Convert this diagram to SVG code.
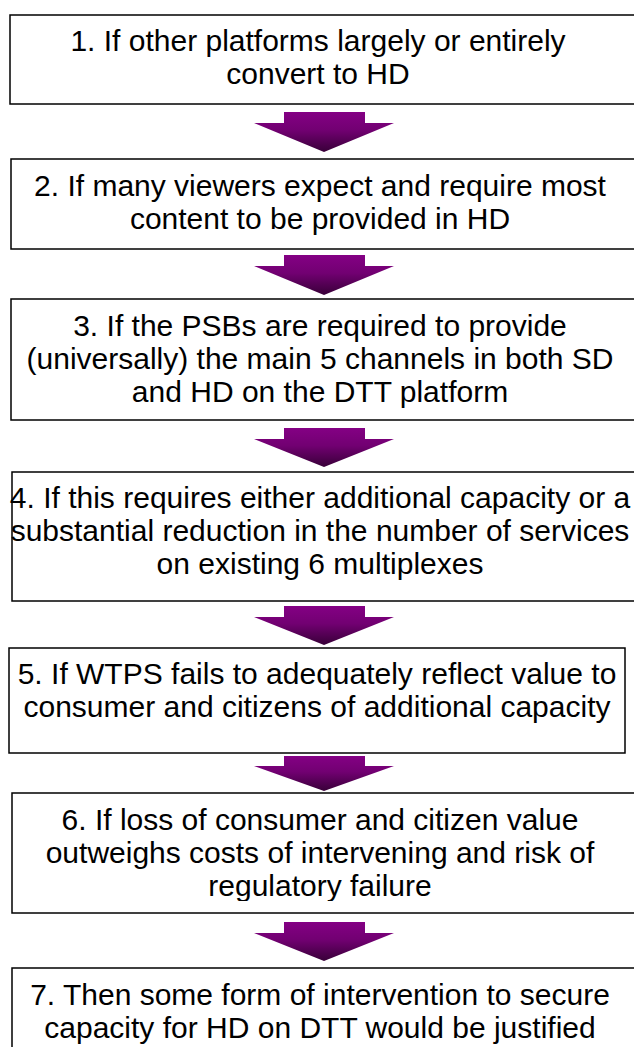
<svg xmlns="http://www.w3.org/2000/svg" width="634" height="1047" viewBox="0 0 634 1047">
<style>
.box{fill:#fff;stroke:#000;stroke-width:1.5}
.t{font-family:"Liberation Sans",Arial,sans-serif;font-size:30px;fill:#000;text-anchor:middle}
.arr{fill:url(#g)}
</style>
<defs>
<linearGradient id="g" x1="0" y1="0" x2="0" y2="1">
<stop offset="0" stop-color="#840084"/>
<stop offset="0.45" stop-color="#720072"/>
<stop offset="1" stop-color="#380038"/>
</linearGradient>
<clipPath id="c6"><rect x="0" y="793" width="634" height="108"/></clipPath>
</defs>
<rect width="634" height="1047" fill="#fff"/>
<g id="connectors">
<path class="arr" d="M284,112H365V123H394L324,152L254,123H284Z"/>
<path class="arr" d="M284,255H365V266H394L324,295L254,266H284Z"/>
<path class="arr" d="M284,428H365V439H394L324,467L254,439H284Z"/>
<path class="arr" d="M284,606H365V617H394L324,645L254,617H284Z"/>
<path class="arr" d="M284,756H365V766H394L324,791L254,766H284Z"/>
<path class="arr" d="M284,922H365V933H394L324,961L254,933H284Z"/>
</g>
<g id="n1">
<rect class="box" x="10" y="15" width="630" height="89"/>
<text class="t" x="318" y="51">1. If other platforms largely or entirely</text>
<text class="t" x="318" y="84">convert to HD</text>
</g>
<g id="n2">
<rect class="box" x="11" y="159" width="630" height="90"/>
<text class="t" x="320" y="196">2. If many viewers expect and require most</text>
<text class="t" x="320" y="229">content to be provided in HD</text>
</g>
<g id="n3">
<rect class="box" x="11" y="299" width="630" height="121"/>
<text class="t" x="320" y="336">3. If the PSBs are required to provide</text>
<text class="t" x="320" y="369">(universally) the main 5 channels in both SD</text>
<text class="t" x="320" y="402">and HD on the DTT platform</text>
</g>
<g id="n4">
<rect class="box" x="12" y="472" width="630" height="129"/>
<text class="t" x="320" y="508">4. If this requires either additional capacity or a</text>
<text class="t" x="320" y="541">substantial reduction in the number of services</text>
<text class="t" x="320" y="574">on existing 6 multiplexes</text>
</g>
<g id="n5">
<rect class="box" x="9" y="648" width="616" height="105"/>
<text class="t" x="317" y="684">5. If WTPS fails to adequately reflect value to</text>
<text class="t" x="317" y="717">consumer and citizens of additional capacity</text>
</g>
<g id="n6">
<rect class="box" x="12" y="793" width="630" height="120"/>
<g clip-path="url(#c6)">
<text class="t" x="320" y="830">6. If loss of consumer and citizen value</text>
<text class="t" x="320" y="863">outweighs costs of intervening and risk of</text>
<text class="t" x="320" y="896">regulatory failure</text>
</g>
</g>
<g id="n7">
<rect class="box" x="12" y="968" width="630" height="90"/>
<text class="t" x="320" y="1005">7. Then some form of intervention to secure</text>
<text class="t" x="320" y="1038">capacity for HD on DTT would be justified</text>
</g>
</svg>
